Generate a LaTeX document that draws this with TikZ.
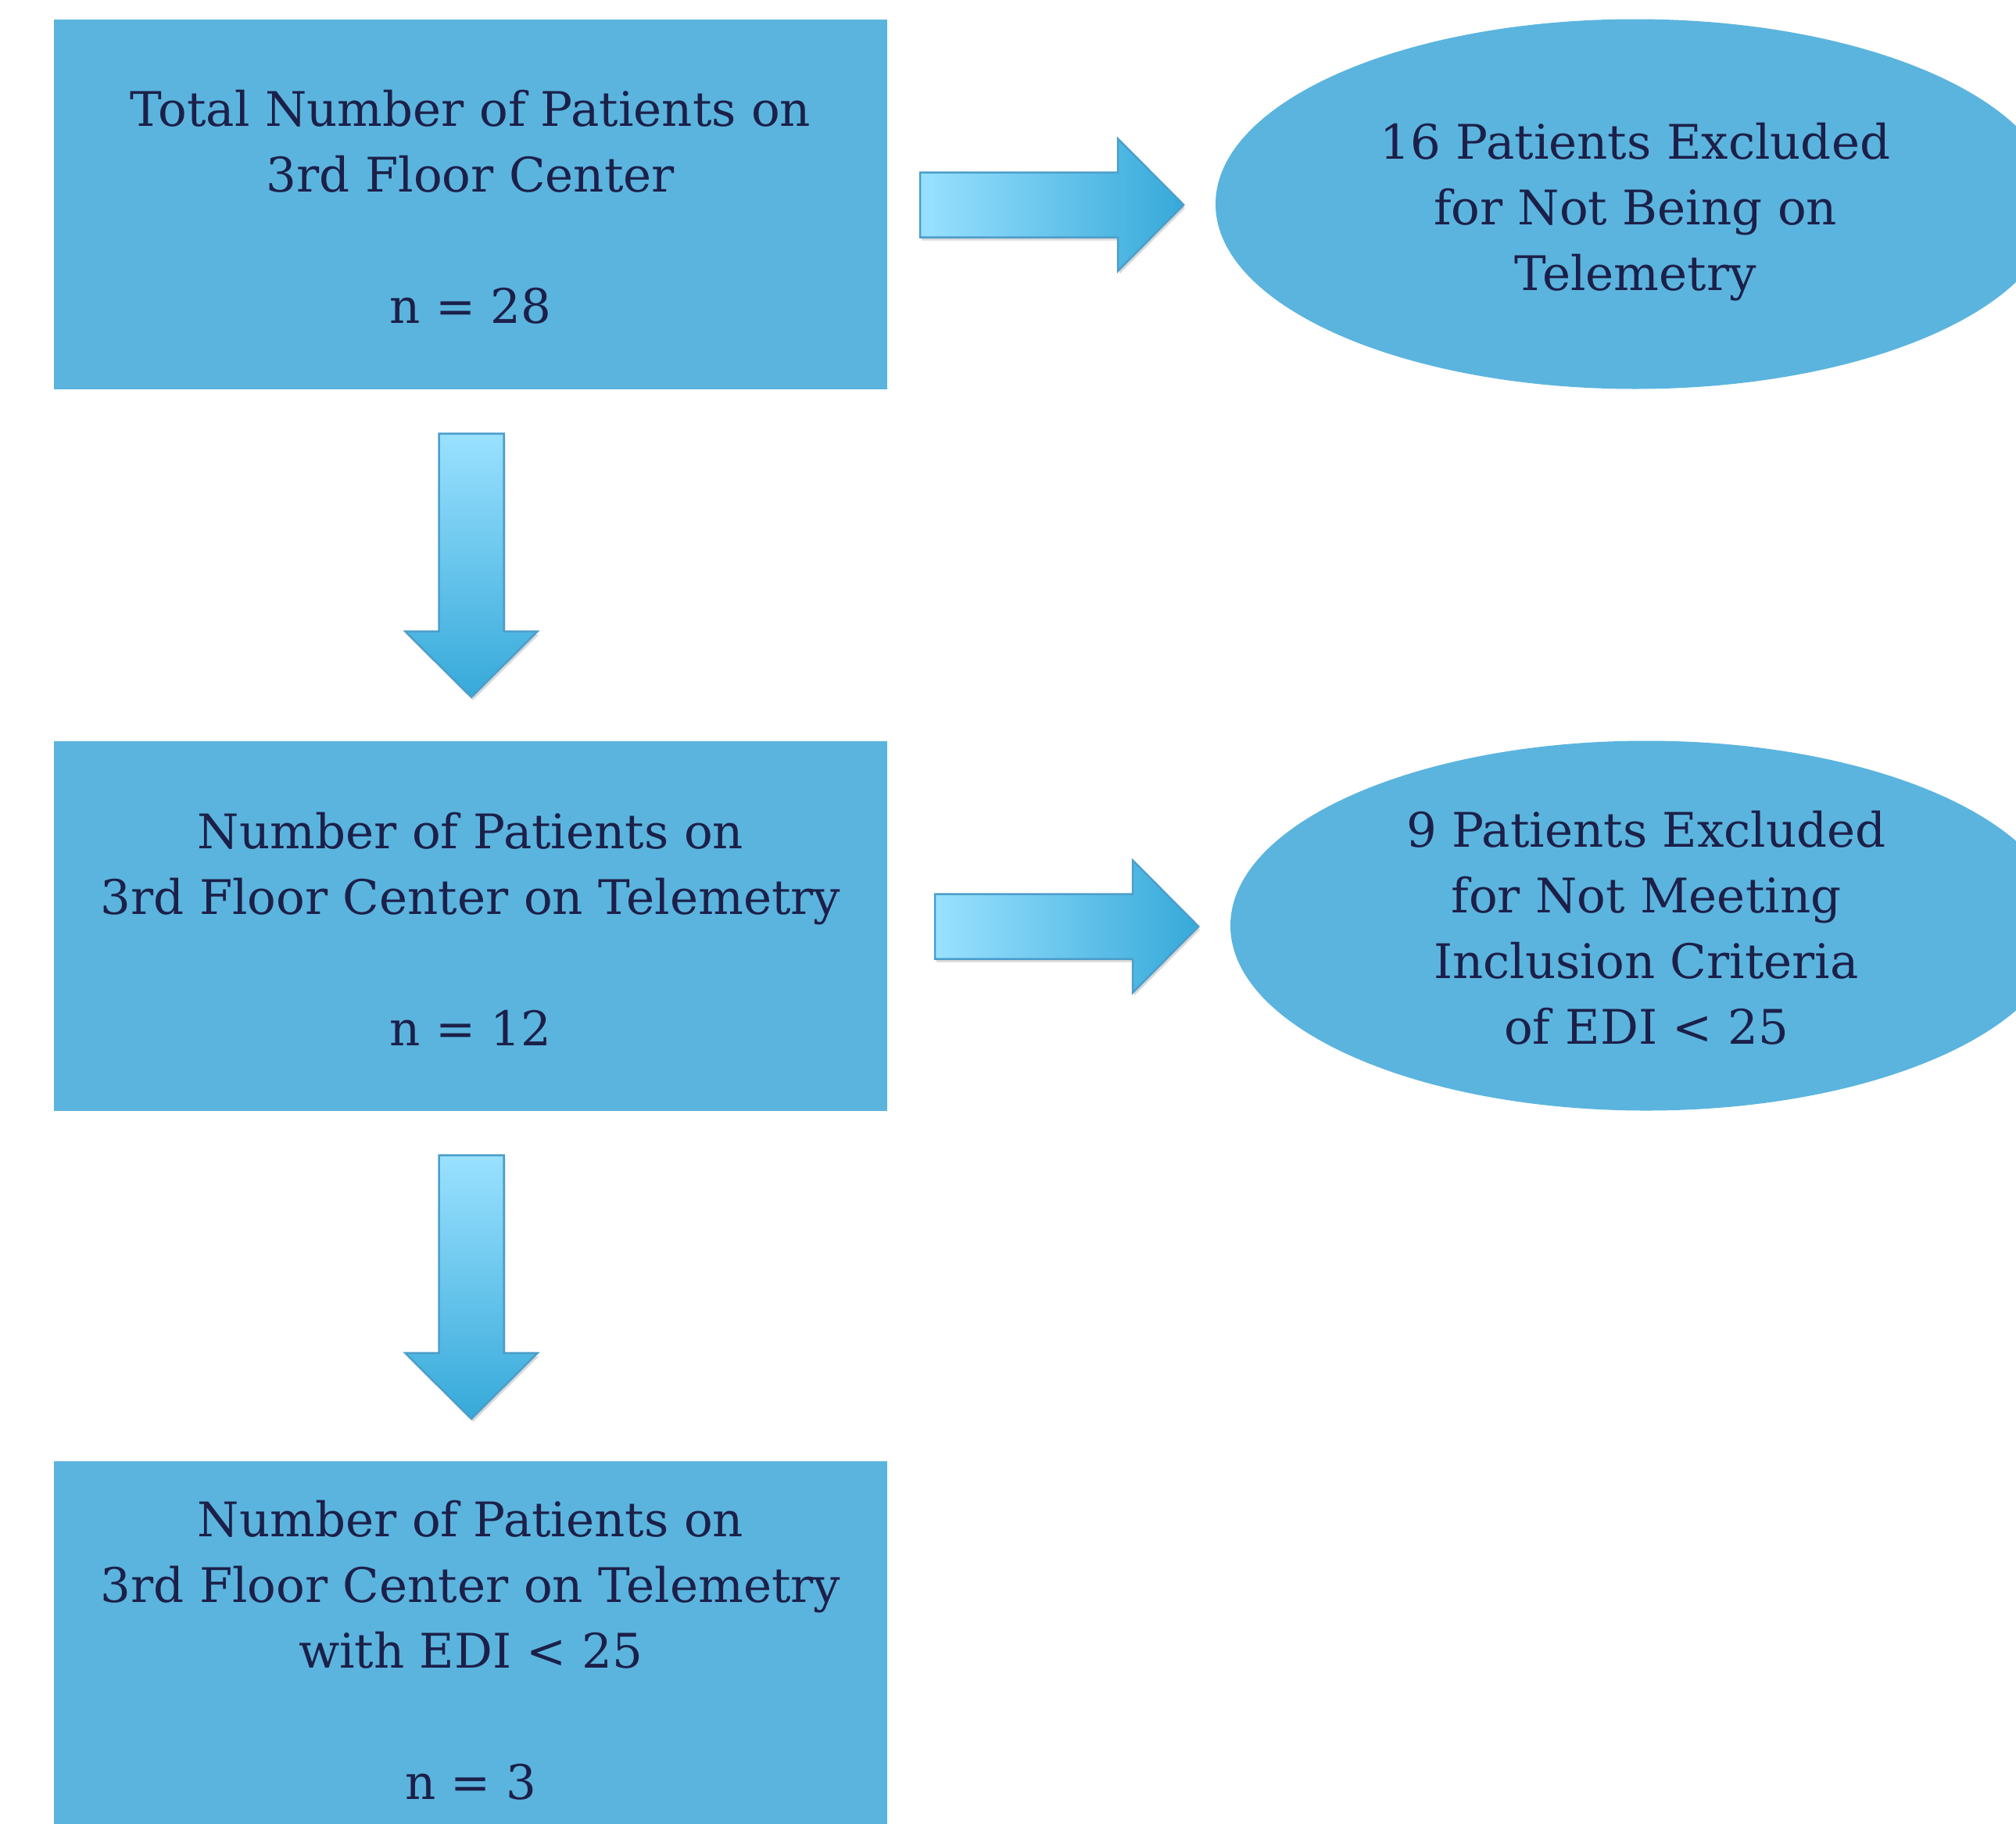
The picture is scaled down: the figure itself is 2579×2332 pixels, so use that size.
\documentclass[tikz,border=0pt]{standalone}
\usepackage{fontspec}
\setmainfont{DejaVu Serif}
\usetikzlibrary{shapes.geometric,shadows,calc}
\definecolor{boxblue}{HTML}{5BB4DE}
\definecolor{arrlight}{HTML}{9AE1FF}
\definecolor{arrdark}{HTML}{36A9D9}
\definecolor{arredge}{HTML}{4C9ECB}
\definecolor{txtcol}{HTML}{1C2049}
\begin{document}
\begin{tikzpicture}[x=1pt,y=-1pt,
  txtfont/.style={font=\fontsize{61}{84}\selectfont, text=txtcol, align=center, inner sep=0pt},
  box/.style={rectangle, fill=boxblue, minimum width=1066pt, minimum height=473pt, inner sep=0pt},
  oval/.style={ellipse, fill=boxblue, minimum height=473pt, inner sep=0pt},
  arrowshape/.style={draw=arredge, line width=2.5pt, line join=miter,
     drop shadow={shadow xshift=2pt, shadow yshift=-4pt, opacity=0.15, fill=black}},
  rarrow/.pic={\path[arrowshape, left color=arrlight, right color=arrdark]
     (0,-41.5) -- (253,-41.5) -- (253,-84.5) -- (337,0) -- (253,84.5) -- (253,41.5) -- (0,41.5) -- cycle;},
  darrow/.pic={\path[arrowshape, top color=arrlight, bottom color=arrdark]
     (-41.5,0) -- (-41.5,253) -- (-84.5,253) -- (0,337) -- (84.5,253) -- (41.5,253) -- (41.5,0) -- cycle;}
]
\useasboundingbox (0,0) rectangle (2579,2332);
\clip (0,0) rectangle (2579,2332);
\fill[white] (0,0) rectangle (2579,2332);

\node[box] (b1) at (602,261) {};
\node[box] (b2) at (602,1184) {};
\node[box] (b3) at (602,2105.5) {};
\node[oval, minimum width=1074pt] (e1) at (2092,261) {};
\node[oval, minimum width=1064pt] (e2) at (2106,1184) {};

\node[txtfont] (t1) at ($(b1.center)+(0,4)$) {Total Number of Patients on\\3rd Floor Center\\[84pt]n = 28};
\node[txtfont] (t2) at ($(b2.center)+(0,4)$) {Number of Patients on\\3rd Floor Center on Telemetry\\[84pt]n = 12};
\node[txtfont] (t3) at ($(b3.center)+(0,5)$) {Number of Patients on\\3rd Floor Center on Telemetry\\with EDI < 25\\[84pt]n = 3};
\node[txtfont] (t4) at ($(e1.center)+(0,10)$) {16 Patients Excluded\\for Not Being on\\Telemetry};
\node[txtfont] (t5) at ($(e2.center)+(0,3)$) {9 Patients Excluded\\for Not Meeting\\Inclusion Criteria\\of EDI < 25};

\coordinate (r1) at ($(b1.east)+(42,1)$);
\coordinate (r2) at ($(b2.east)+(61,1)$);
\coordinate (d1) at ($(b1.south)+(1,57)$);
\coordinate (d2) at ($(b2.south)+(1,57)$);
\pic at (r1) {rarrow};
\pic at (r2) {rarrow};
\pic at (d1) {darrow};
\pic at (d2) {darrow};
\end{tikzpicture}
\end{document}
